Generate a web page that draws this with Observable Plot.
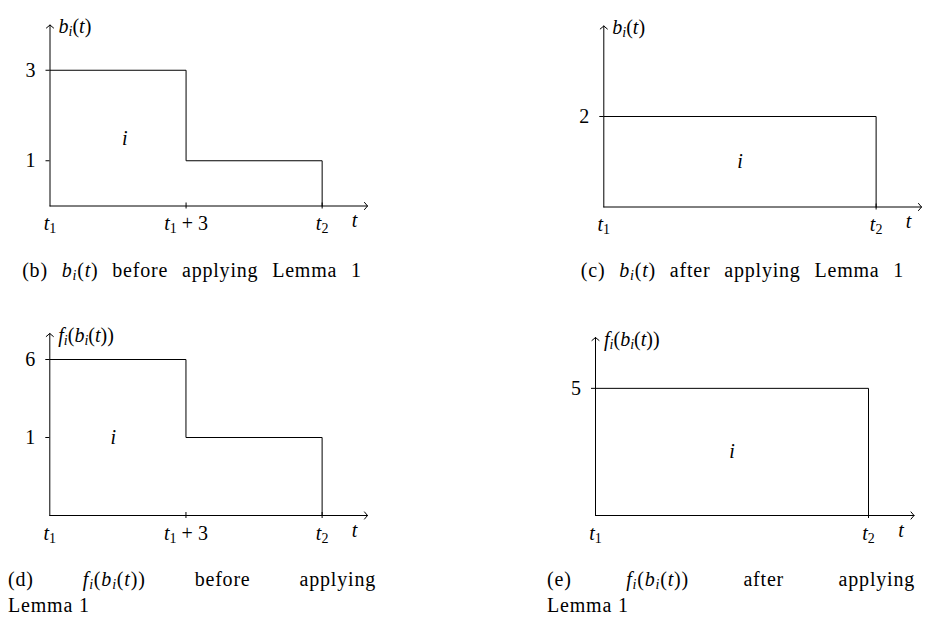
<!DOCTYPE html>
<html><head><meta charset="utf-8">
<script src="https://cdn.jsdelivr.net/npm/d3@7"></script>
<script src="https://cdn.jsdelivr.net/npm/@observablehq/plot@0.6"></script>
<style>
html,body{margin:0;padding:0;background:#fff;}
#root{position:relative;width:925px;height:617px;overflow:hidden;font-family:"Liberation Serif","DejaVu Serif","Noto Serif",serif;font-size:20px;color:#000;}
.panel{position:absolute;}
.cap{position:absolute;line-height:26px;white-space:nowrap;letter-spacing:0.8px;}
.cap .it{font-style:italic;}
.cap .sub{font-size:0.7em;font-style:italic;position:relative;top:0.22em;line-height:0;}
.cap .subr{font-size:0.7em;position:relative;top:0.22em;line-height:0;}
.just{text-align:justify;text-align-last:justify;white-space:normal;}
</style></head><body><div id="root"></div>
<script>
// ---------- data ----------
const ticksBefore = [0, 3, 6];
const tickLabelsBefore = ["t_1", "t_1 + 3", "t_2"];
const ticksAfter = [0, 6];
const tickLabelsAfter = ["t_1", "t_2"];

const bBeforeT = [0, 3, 6];
const bBeforeV = [3, 1, 0];
const bAfterT = [0, 6];
const bAfterV = [2, 0];
const fBeforeT = [0, 3, 6];
const fBeforeV = [6, 1, 0];
const fAfterT = [0, 6];
const fAfterV = [5, 0];

const bBeforeYTicks = [1, 3];
const bAfterYTicks = [2];
const fBeforeYTicks = [1, 6];
const fAfterYTicks = [5];

// panel (d) is drawn schematically: value 1 sits at height 3 of the axis
const fBeforeSchematicValues = [0, 1, 6, 7];
const fBeforeSchematicHeights = [0, 3, 6, 7];

const yAxisLabels = ["b_i(t)", "b_i(t)", "f_i(b_i(t))", "f_i(b_i(t))"];
const xAxisLabel = "t";
const regionLabel = "i";
const regionPos = [[1.65, 1.5], [3, 1], [1.4, 1], [3, 2.5]];

const captionB = "(b) $b_i(t)$ before applying Lemma 1";
const captionC = "(c) $b_i(t)$ after applying Lemma 1";
const captionD = ["(d) $f_i(b_i(t))$ before applying", "Lemma 1"];
const captionE = ["(e) $f_i(b_i(t))$ after applying", "Lemma 1"];

const FONT = "'Liberation Serif', 'DejaVu Serif', 'Noto Serif', serif";

// ---------- text helpers ----------
function parse(s, math) {
  const segs = []; let i = 0;
  while (i < s.length) {
    const c = s[i];
    if (c === "$") { math = !math; i++; continue; }
    if (math && c === "_") { const n = s[i + 1]; segs.push({t: n, it: /[a-zA-Z]/.test(n), sub: true}); i += 2; continue; }
    segs.push({t: c, it: math && /[a-zA-Z]/.test(c), sub: false}); i++;
  }
  const out = [];
  for (const g of segs) {
    const l = out[out.length - 1];
    if (l && l.it === g.it && l.sub === g.sub) l.t += g.t; else out.push({...g});
  }
  return out;
}
function texifySVG(el) {
  const segs = parse(el.textContent, true);
  el.textContent = "";
  let shifted = false;
  for (const g of segs) {
    const ts = document.createElementNS("http://www.w3.org/2000/svg", "tspan");
    ts.textContent = g.t;
    if (g.it) ts.setAttribute("font-style", "italic");
    if (g.sub) { ts.setAttribute("font-size", "14"); if (!shifted) { ts.setAttribute("dy", "3"); shifted = true; } }
    else if (shifted) { ts.setAttribute("dy", "-3"); shifted = false; }
    el.appendChild(ts);
  }
}
function toHTML(s) {
  return parse(s, false).map(g => {
    const t = g.t.replace(/&/g, "&amp;").replace(/</g, "&lt;");
    if (g.sub) return `<span class="${g.it ? "sub" : "subr"}">${t}</span>`;
    if (g.it) return `<span class="it">${t}</span>`;
    return t;
  }).join("");
}

// ---------- panels ----------
const root = document.getElementById("root");
const identity = d => d;
const schematic = d3.scaleLinear().domain(fBeforeSchematicValues).range(fBeforeSchematicHeights);
const panels = [
  {left: 0, top: 0, width: 400, height: 250, ml: 49.5, mr: 33, mt: 24.5, mb: 44.5,
   T: bBeforeT, V: bBeforeV, xt: ticksBefore, xl: tickLabelsBefore, yt: bBeforeYTicks,
   yDomain: [0, 4], ymap: identity, xMax: 7, yMax: 4},
  {left: 540, top: 0, width: 385, height: 250, ml: 63.3, mr: 4, mt: 25.5, mb: 43.5,
   T: bAfterT, V: bAfterV, xt: ticksAfter, xl: tickLabelsAfter, yt: bAfterYTicks,
   yDomain: [0, 4], ymap: identity, xMax: 7, yMax: 4},
  {left: 0, top: 300, width: 400, height: 250, ml: 49.3, mr: 33, mt: 33, mb: 35,
   T: fBeforeT, V: fBeforeV, xt: ticksBefore, xl: tickLabelsBefore, yt: fBeforeYTicks,
   yDomain: [0, 7], ymap: schematic, xMax: 7, yMax: 7},
  {left: 540, top: 300, width: 385, height: 250, ml: 55, mr: 11.5, mt: 37, mb: 35,
   T: fAfterT, V: fAfterV, xt: ticksAfter, xl: tickLabelsAfter, yt: fAfterYTicks,
   yDomain: [0, 7], ymap: identity, xMax: 7, yMax: 7}
];

panels.forEach((p, k) => {
  const steps = p.T.map((t, j) => ({t, v: p.V[j]}));
  const axes = [{x1: 0, y1: 0, x2: p.xMax, y2: 0}, {x1: 0, y1: 0, x2: 0, y2: p.yMax}];
  const yTickPos = p.yt.map(v => p.ymap(v));
  const svg = Plot.plot({
    width: p.width, height: p.height,
    marginLeft: p.ml, marginRight: p.mr, marginTop: p.mt, marginBottom: p.mb,
    x: {domain: [0, p.xMax], label: null},
    y: {domain: p.yDomain, label: null},
    style: {fontFamily: FONT, fontSize: "20px", background: "transparent", color: "#000", overflow: "visible"},
    marks: [
      Plot.line(steps, {x: "t", y: d => p.ymap(d.v), curve: "step-after", stroke: "#000", strokeWidth: 1}),
      Plot.arrow(axes, {x1: "x1", y1: "y1", x2: "x2", y2: "y2", stroke: "#000", strokeWidth: 1, headLength: 7, headAngle: 100}),
      Plot.ruleX(p.xt.filter(d => d !== 0), {x: d => d, y1: 0, y2: 0, insetTop: -3, insetBottom: -3, stroke: "#000", strokeWidth: 1}),
      Plot.ruleY(p.yt, {y: d => p.ymap(d), x1: 0, x2: 0, insetLeft: -4, stroke: "#000", strokeWidth: 1}),
      Plot.axisX({ticks: p.xt, tickFormat: d => p.xl[p.xt.indexOf(d)], tickSize: 0, tickPadding: 10, label: null}),
      Plot.axisY({ticks: yTickPos, tickFormat: d => String(p.yt[yTickPos.indexOf(d)]), tickSize: 0, tickPadding: 14.5, label: null}),
      Plot.text([{x: 0, y: p.yMax, s: yAxisLabels[k]}], {x: "x", y: "y", text: "s", textAnchor: "start", dx: 8.5, dy: 2, lineAnchor: "middle"}),
      Plot.text([{x: p.xMax, y: 0, s: xAxisLabel}], {x: "x", y: "y", text: "s", dx: -13, dy: 15, lineAnchor: "middle"}),
      Plot.text([{x: regionPos[k][0], y: regionPos[k][1], s: regionLabel}], {x: "x", y: d => p.ymap(d.y), text: "s", lineAnchor: "middle"})
    ]
  });
  svg.querySelectorAll("text").forEach(texifySVG);
  const wrap = document.createElement("div");
  wrap.className = "panel";
  wrap.style.left = p.left + "px";
  wrap.style.top = p.top + "px";
  wrap.appendChild(svg);
  root.appendChild(wrap);
});

// ---------- captions ----------
function singleCaption(text, center, top, target) {
  const d = document.createElement("div");
  d.className = "cap";
  d.style.top = top + "px";
  const span = document.createElement("span");
  span.innerHTML = toHTML(text);
  d.appendChild(span);
  root.appendChild(d);
  const w = span.getBoundingClientRect().width;
  const gaps = (span.textContent.match(/ /g) || []).length || 1;
  span.style.wordSpacing = Math.max(-2, Math.min(8, (target - w) / gaps)) + "px";
  const w2 = span.getBoundingClientRect().width;
  d.style.left = (center - w2 / 2) + "px";
}
function blockCaption(lines, left, top, width) {
  const d = document.createElement("div");
  d.className = "cap";
  d.style.left = left + "px";
  d.style.top = top + "px";
  d.style.width = width + "px";
  const l1 = document.createElement("div");
  l1.className = "just";
  l1.innerHTML = toHTML(lines[0]);
  const l2 = document.createElement("div");
  l2.innerHTML = toHTML(lines[1]);
  d.appendChild(l1); d.appendChild(l2);
  root.appendChild(d);
}
singleCaption(captionB, 192, 257, 368);
singleCaption(captionC, 742.5, 257, 355);
blockCaption(captionD, 8, 566, 368);
blockCaption(captionE, 547, 566, 368);
</script></body></html>
